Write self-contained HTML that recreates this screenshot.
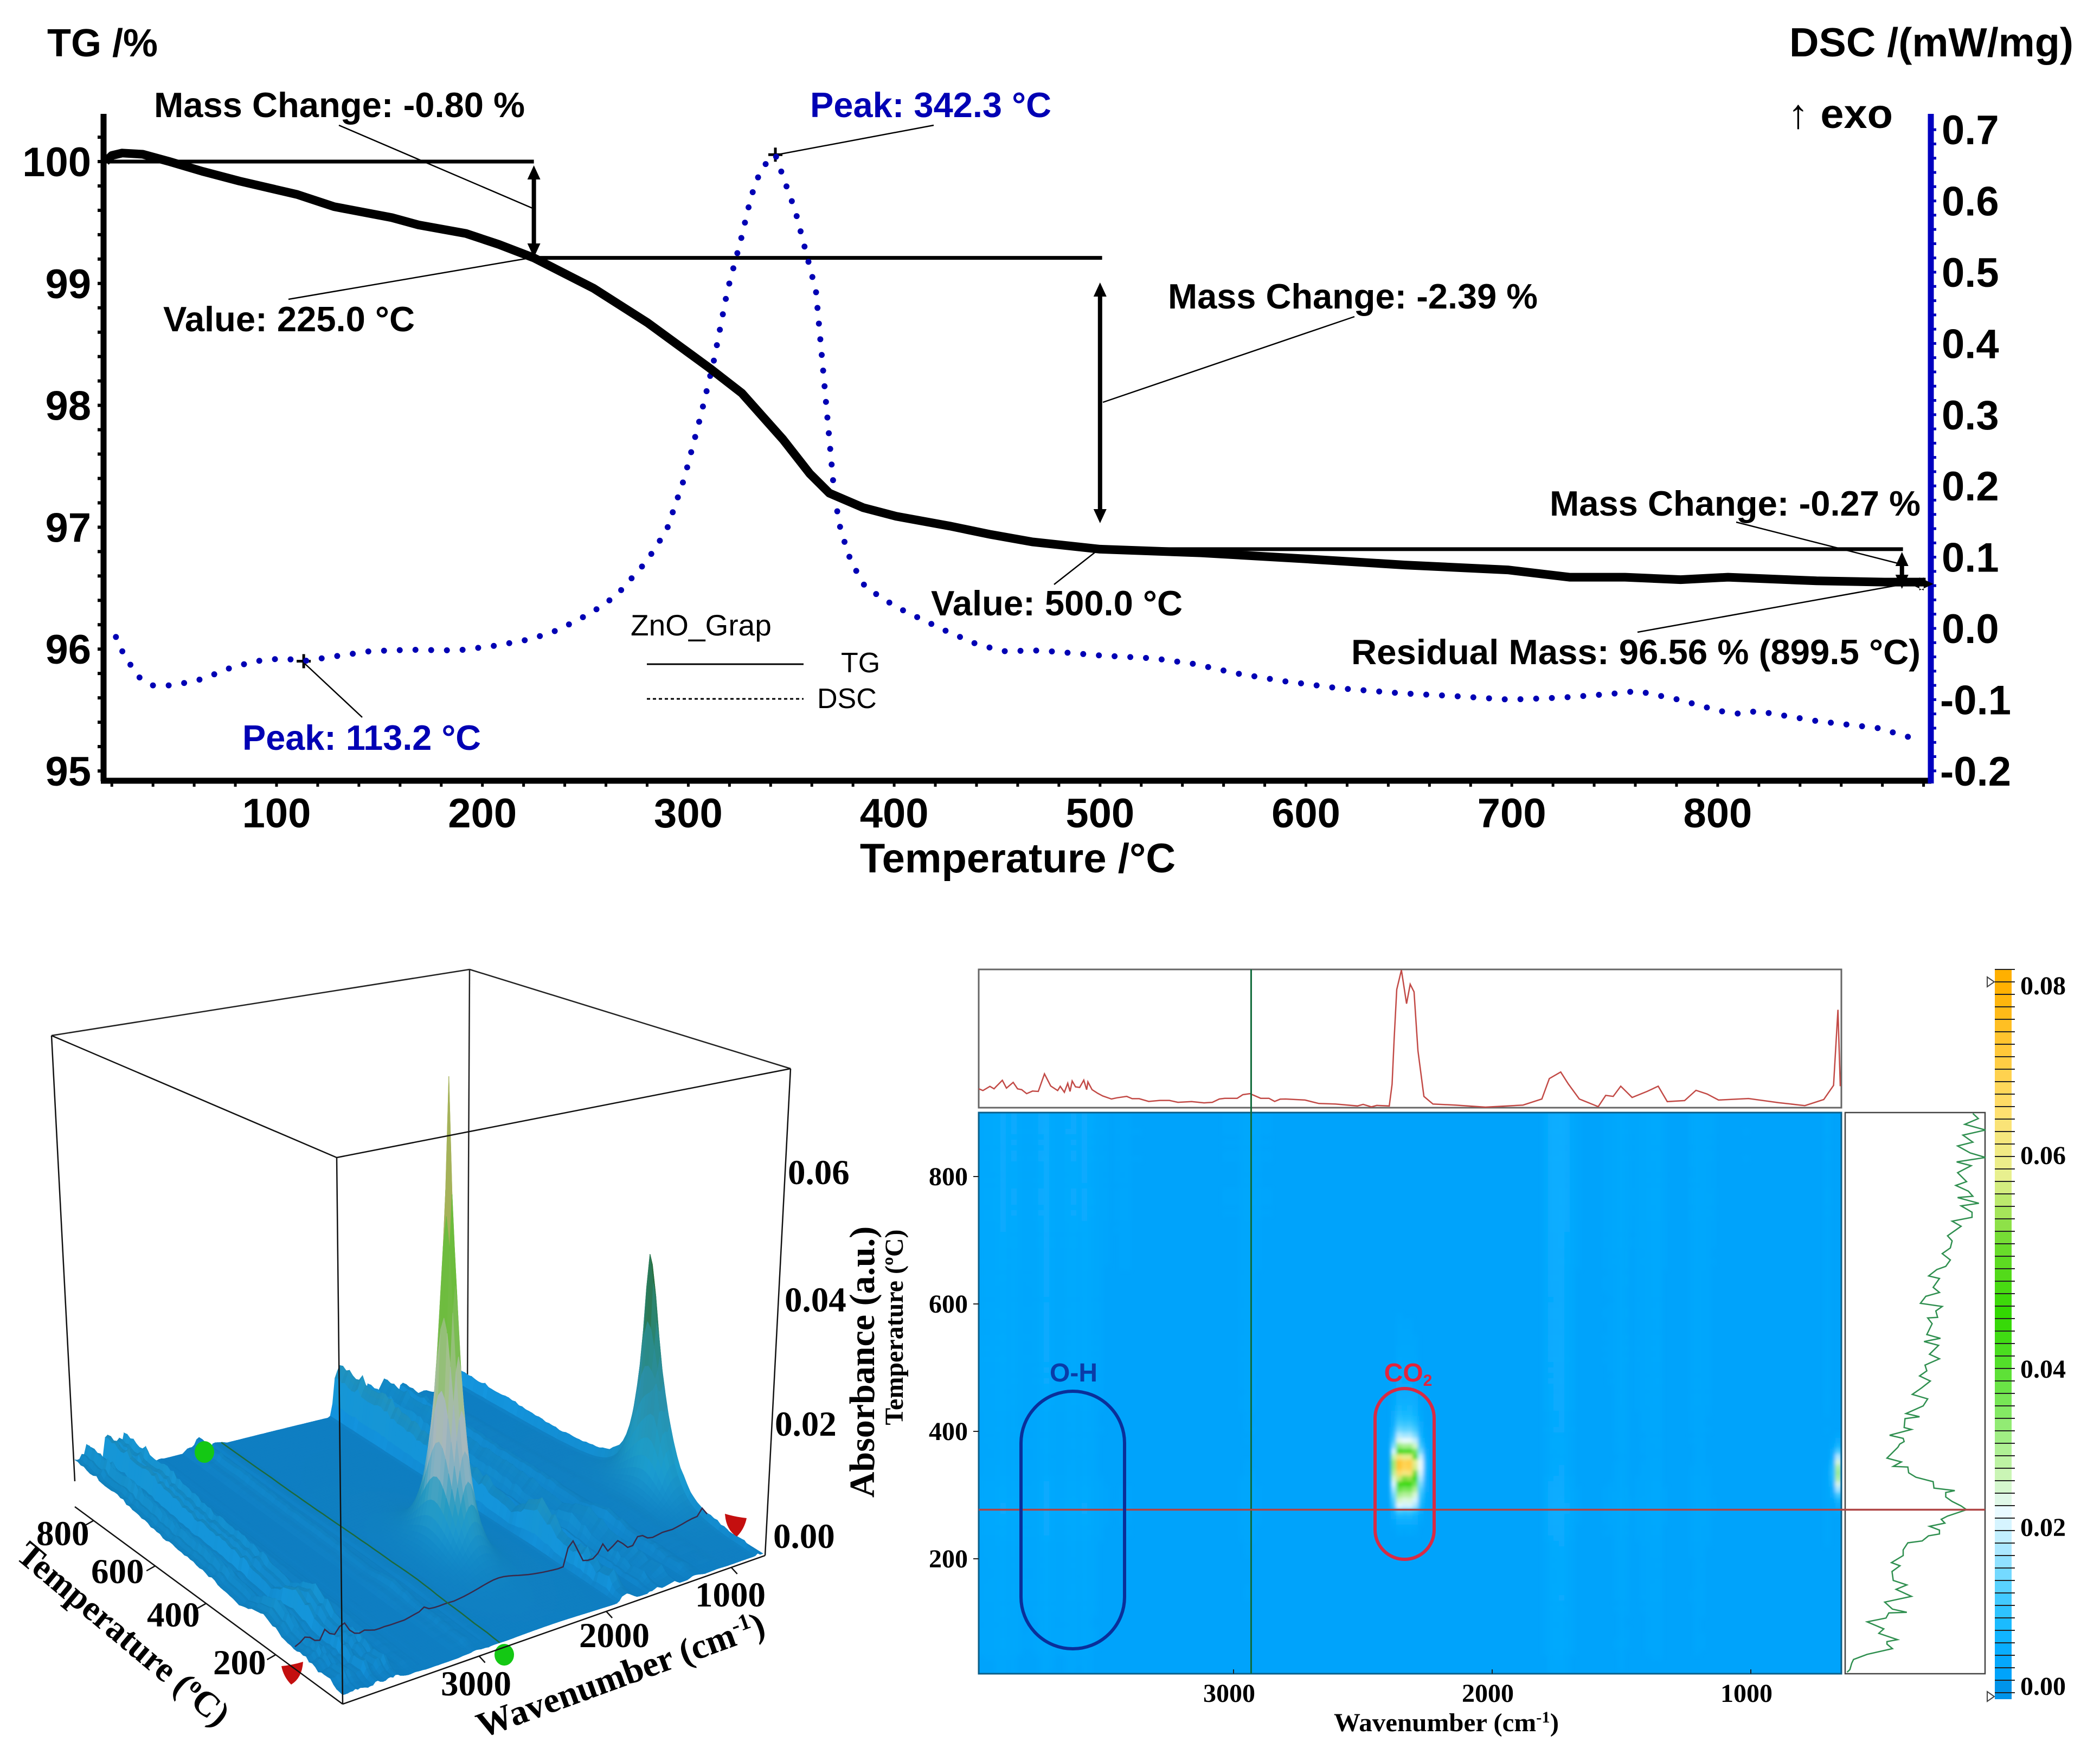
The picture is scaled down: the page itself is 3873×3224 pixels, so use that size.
<!DOCTYPE html>
<html lang="en">
<head>
<meta charset="utf-8">
<title>TG-DSC and FTIR charts</title>
<style>
html,body{margin:0;padding:0;background:#fff;}
svg{display:block;}
.sb{font-family:"Liberation Sans",sans-serif;font-weight:700;}
.sr{font-family:"Liberation Sans",sans-serif;font-weight:400;}
.tb{font-family:"Liberation Serif",serif;font-weight:700;}
</style>
</head>
<body>
<svg id="fig" xmlns="http://www.w3.org/2000/svg" width="3873" height="3224" viewBox="0 0 3873 3224">
<defs>
<clipPath id="heatClip"><rect x="1805" y="2052" width="1591" height="1035"/></clipPath>
<filter id="soft" x="-2%" y="-2%" width="104%" height="104%"><feGaussianBlur stdDeviation="3.5"/></filter>
</defs>
<rect width="3873" height="3224" fill="#fff"/>

<g id="tgChart">
<g id="tgTicks"></g>
<line x1="191" y1="210" x2="191" y2="1441" stroke="#000" stroke-width="11"/>
<line x1="186" y1="1440" x2="3562" y2="1440" stroke="#000" stroke-width="11"/>
<line x1="3561" y1="210" x2="3561" y2="1445" stroke="#0000c0" stroke-width="11"/>
<g id="tgAnno"></g>
<g id="tgSeries"></g>
<text class="sb" x="87" y="104" font-size="72">TG /%</text>
<text class="sb" x="3300" y="104" font-size="75" textLength="524" lengthAdjust="spacingAndGlyphs">DSC /(mW/mg)</text>
<text class="sb" x="3297" y="236" font-size="76" textLength="194" lengthAdjust="spacingAndGlyphs">↑ exo</text>
<text class="sb" x="1877" y="1609" font-size="76" text-anchor="middle">Temperature /°C</text>
<text class="sb" x="284" y="216" font-size="65" textLength="684" lengthAdjust="spacingAndGlyphs">Mass Change: -0.80 %</text>
<text class="sb" x="1494" y="216" font-size="65" fill="#0000b4" textLength="445" lengthAdjust="spacingAndGlyphs">Peak: 342.3 °C</text>
<text class="sb" x="301" y="611" font-size="65" textLength="464" lengthAdjust="spacingAndGlyphs">Value: 225.0 °C</text>
<text class="sb" x="2154" y="569" font-size="65" textLength="682" lengthAdjust="spacingAndGlyphs">Mass Change: -2.39 %</text>
<text class="sb" x="2858" y="951" font-size="65" textLength="684" lengthAdjust="spacingAndGlyphs">Mass Change: -0.27 %</text>
<text class="sb" x="1717" y="1135" font-size="65" textLength="464" lengthAdjust="spacingAndGlyphs">Value: 500.0 °C</text>
<text class="sb" x="2492" y="1225" font-size="65" textLength="1050" lengthAdjust="spacingAndGlyphs">Residual Mass: 96.56 % (899.5 °C)</text>
<text class="sb" x="447" y="1383" font-size="65" fill="#0000b4" textLength="440" lengthAdjust="spacingAndGlyphs">Peak: 113.2 °C</text>
<text class="sr" x="1163" y="1172" font-size="55">ZnO_Grap</text>
<line x1="1193" y1="1225" x2="1482" y2="1225" stroke="#000" stroke-width="3"/>
<text class="sr" x="1551" y="1240" font-size="52">TG</text>
<line x1="1193" y1="1289" x2="1482" y2="1289" stroke="#000" stroke-width="3" stroke-dasharray="6 5"/>
<text class="sr" x="1507" y="1306" font-size="52">DSC</text>
</g>

<g id="surf">
<g stroke="#222" stroke-width="2.5">
<line x1="95" y1="1910" x2="866" y2="1788"/>
<line x1="866" y1="1788" x2="1458" y2="1971"/>
<line x1="866" y1="1788" x2="862" y2="2560"/>
</g>
<g id="surfMesh"></g>
<g id="surfOver"></g>
<g stroke="#111" stroke-width="2.5">
<line x1="95" y1="1910" x2="621" y2="2135"/>
<line x1="621" y1="2135" x2="1458" y2="1971"/>
<line x1="95" y1="1910" x2="138" y2="2732"/>
<line x1="621" y1="2135" x2="632" y2="3143"/>
<line x1="1458" y1="1971" x2="1411" y2="2869"/>
<line x1="138" y1="2779" x2="632" y2="3143"/>
<line x1="632" y1="3143" x2="1411" y2="2869"/>
</g>
<g id="surfLabels"></g>
<text class="tb" x="214" y="3030" font-size="65" text-anchor="middle" transform="rotate(40 214 3030)">Temperature (<tspan font-size="42" dy="-22">o</tspan><tspan dy="22">C)</tspan></text>
<text class="tb" x="1152" y="3110" font-size="66" text-anchor="middle" transform="rotate(-20 1152 3110)">Wavenumber (cm<tspan font-size="42" dy="-22">-1</tspan><tspan dy="22">)</tspan></text>
<text class="tb" x="1612" y="2512" font-size="66" text-anchor="middle" transform="rotate(-90 1612 2512)">Absorbance (a.u.)</text>
</g>

<g id="heat">
<rect x="1805" y="2052" width="1591" height="1035" fill="#00a3fb"/>
<g clip-path="url(#heatClip)"><g id="heatCells" filter="url(#soft)"></g></g>
<rect x="1805" y="2052" width="1591" height="1035" fill="none" stroke="#0b5f8a" stroke-width="3"/>
<rect x="1805" y="1788" width="1591" height="255" fill="#fff" stroke="#666" stroke-width="3"/>
<rect x="3403" y="2052" width="258" height="1035" fill="#fff" stroke="#444" stroke-width="2.5"/>
<g id="heatLines"></g>
<g id="colorbar"></g>
<rect x="1883" y="2566" width="191" height="475" rx="95.5" ry="95.5" fill="none" stroke="#0a2f9a" stroke-width="6"/>
<rect x="2536" y="2561" width="109" height="315" rx="54.5" ry="54.5" fill="none" stroke="#d82b44" stroke-width="6"/>
<text class="sb" x="1980" y="2548" font-size="48" fill="#0a3ca8" text-anchor="middle">O-H</text>
<text class="sb" x="2597" y="2548" font-size="48" fill="#e2243c" text-anchor="middle">CO<tspan font-size="30" dy="8">2</tspan></text>
<text class="tb" x="2460" y="3193" font-size="48" textLength="415" lengthAdjust="spacingAndGlyphs">Wavenumber (cm<tspan font-size="30" dy="-16">-1</tspan><tspan dy="16">)</tspan></text>
<text class="tb" x="1665" y="2448" font-size="48" text-anchor="middle" transform="rotate(-90 1665 2448)">Temperature (ºC)</text>
</g>
</svg>

<script>
// ---------- TG / DSC data ----------
const tgTemps=[17,20,25,35,48,64,82,110,128,156,169,192,208,225,254,280,310,326,346,359,368.5,385,401,427,447,467,500,549,600,648,698,728,755,782,805,848,881,901];
const tgValues=[100.0,100.05,100.07,100.06,100.0,99.92,99.84,99.73,99.63,99.54,99.48,99.41,99.32,99.21,98.96,98.68,98.31,98.1,97.72,97.44,97.28,97.16,97.09,97.01,96.94,96.88,96.82,96.79,96.74,96.69,96.65,96.59,96.59,96.57,96.59,96.56,96.55,96.55];
const dscTemps=[22,26,33,39.5,50,64,78,90,103,113,129,145.5,165,188,207,223.6,237,253,265,279.7,289.5,298,306,312.6,319,325.6,330.5,335.5,342.3,347,352,357,362,365,368.5,371,374,379,386,401,424,440,453,471,500,526,546,566,589,616,646,672,699,725,748,761,781,801,811,819,848,878,897];
const dscValues=[-0.012,-0.038,-0.068,-0.08,-0.08,-0.071,-0.055,-0.046,-0.042,-0.046,-0.039,-0.032,-0.03,-0.031,-0.024,-0.015,-0.002,0.022,0.046,0.094,0.138,0.21,0.298,0.378,0.474,0.546,0.606,0.646,0.665,0.626,0.586,0.53,0.474,0.378,0.266,0.186,0.138,0.094,0.058,0.03,-0.002,-0.022,-0.032,-0.031,-0.038,-0.042,-0.05,-0.063,-0.074,-0.084,-0.091,-0.095,-0.1,-0.097,-0.092,-0.088,-0.1,-0.116,-0.12,-0.116,-0.13,-0.14,-0.156];
const tempTickLabels=[100,200,300,400,500,600,700,800];
const tgTickLabels=[100,99,98,97,96,95];
const dscTickLabels=['0.7','0.6','0.5','0.4','0.3','0.2','0.1','0.0','-0.1','-0.2'];
// ---------- FTIR data ----------
const specWavenumbers=[3985,3969,3942,3926,3919,3894,3878,3852,3835,3819,3800,3777,3755,3731,3707,3680,3670,3654,3641,3632,3624,3611,3595,3579,3568,3563,3547,3525,3506,3472,3451,3413,3392,3365,3328,3285,3248,3215,3162,3114,3082,3055,3034,2986,2964,2937,2921,2895,2863,2841,2820,2799,2724,2697,2670,2606,2521,2499,2467,2446,2398,2387,2379,2369,2351,2331,2317,2302,2287,2264,2229,2142,2026,1881,1808,1779,1735,1706,1663,1590,1561,1532,1503,1459,1401,1358,1323,1256,1212,1169,1125,1009,893,791,718,680,663,654];
const specAbsorbance=[.0109,.0099,.0123,.0109,.0120,.0158,.0113,.0146,.0109,.0104,.0081,.0096,.0094,.0195,.0125,.0099,.0123,.0089,.0141,.0094,.0154,.0120,.0117,.0159,.0104,.0149,.0104,.0083,.0068,.0050,.0057,.0065,.0052,.0052,.0036,.0042,.0042,.0031,.0035,.0028,.0031,.0050,.0054,.0054,.0075,.0081,.0071,.0054,.0054,.0036,.0049,.0050,.0044,.0034,.0024,.0021,.0010,.0019,.0005,.0013,.0010,.0135,.0396,.0682,.0794,.0600,.0712,.0668,.0329,.0065,.0021,.0015,.0003,.0015,.0050,.0168,.0206,.0138,.0050,.0006,.0071,.0065,.0124,.0059,.0094,.0124,.0035,.0041,.0100,.0079,.0044,.0053,.0029,.0012,.0047,.0129,.0565,.0124];
const profileTemps=[22,26,36,42,50,59,66,70,73,83,90,101,107,115,116,121,132,141,152,159,166,180,189,194,205,214,225,228,236,239,245,251,256,262,267,277,283,290,297,304,307,311,321,328,335,344,345,349,352,358,375,380,384,389,394,403,406,420,423,428,440,451,458,468,479,487,495,504,514,521,535,541,546,552,569,578,579,589,596,601,612,618,626,640,644,654,659,669,679,688,699,707,722,730,736,744,754,758,767,769,777,786,792,806,817,823,830,837,848,854,865,873,882,891,899];
const profileValues=[.010,.030,.043,.056,.153,.334,.295,.295,.370,.237,.272,.153,.288,.308,.437,.334,.279,.470,.360,.437,.340,.331,.388,.327,.411,.411,.444,.547,.592,.670,.670,.599,.709,.683,.728,.864,.825,.761,.715,.715,.780,.631,.625,.502,.450,.444,.340,.373,.398,.295,.373,.386,.418,.411,.314,.470,.418,.424,.528,.431,.554,.586,.476,.541,.605,.528,.580,.567,.670,.599,.664,.560,.677,.580,.618,.586,.657,.644,.690,.534,.573,.670,.625,.670,.593,.651,.715,.748,.690,.748,.761,.728,.825,.761,.903,.903,.825,.952,.800,.909,.877,.787,.864,.800,.897,.793,1.0,.890,.800,.909,.838,1.0,.851,.948,.909];
const heatWaveTicks=[3000,2000,1000];
const heatTempTicks=[800,600,400,200];
const colorbarTicks=[0.08,0.06,0.04,0.02,0.00];
const peakWavenumbers=[2340,690,760];
const peakTemps=[340,340,300];
const peakHeights=[.0791,.0425,.012];
const surfZLabels=['0.06','0.04','0.02','0.00'];
const surfTempLabels=['800','600','400','200'];
const surfWaveLabels=['3000','2000','1000'];

const NS='http://www.w3.org/2000/svg';
function mk(tag,attrs,parent,text){
  const el=document.createElementNS(NS,tag);
  for(const k in attrs) el.setAttribute(k,attrs[k]);
  if(text!==undefined) el.textContent=text;
  parent.appendChild(el);
  return el;
}
const $=id=>document.getElementById(id);

// ---------- TG chart ----------
const xT=t=>510+(t-100)*3.797;
const yTG=v=>298+(100-v)*224.8;
const yDSC=v=>1159-v*1314;

const ticks=$('tgTicks');
for(let t=20;t<=900;t+=20){
  const tk=mk('line',{x1:xT(t),y1:1440,x2:xT(t),y2:1451,stroke:'#000','stroke-width':5},ticks);
  
  
}
for(let v=95;v<=100.21;v+=0.2){
  const tk=mk('line',{x1:180,y1:yTG(v),x2:190,y2:yTG(v),stroke:'#000','stroke-width':6},ticks);
  
  
}
for(let v=-0.2;v<=0.701;v+=0.02){
  const tk=mk('line',{x1:3561,y1:yDSC(v),x2:3571,y2:yDSC(v),stroke:'#0000c0','stroke-width':5},ticks);
  
  
}
tempTickLabels.forEach(t=>{
  const l=mk('text',{class:'sb',x:xT(t),y:1526,'font-size':76,'text-anchor':'middle'},ticks,String(t));
  
  
});
tgTickLabels.forEach(v=>{
  const l=mk('text',{class:'sb',x:168,y:yTG(v)+27,'font-size':76,'text-anchor':'end'},ticks,String(v));
  
  
});
dscTickLabels.forEach(s=>{
  const l=mk('text',{class:'sb',x:s[0]==='-'?3578:3581,y:yDSC(parseFloat(s))+27,'font-size':76},ticks,s);
  
  
});

const series=$('tgSeries');
const dscPath=mk('path',{d:'M'+dscTemps.map((t,i)=>xT(t).toFixed(1)+' '+yDSC(dscValues[i]).toFixed(1)).join('L'),fill:'none',stroke:'#0000b4','stroke-width':11,'stroke-linecap':'round','stroke-dasharray':'0 29'},series);


const tgPath=mk('path',{d:'M'+tgTemps.map((t,i)=>xT(t).toFixed(1)+' '+yTG(tgValues[i]).toFixed(1)).join('L'),fill:'none',stroke:'#000','stroke-width':16,'stroke-linejoin':'round'},series);



const anno=$('tgAnno');
function hline(x1,x2,y,w){return mk('line',{x1:x1,y1:y,x2:x2,y2:y,stroke:'#000','stroke-width':w},anno);}
const h1=hline(xT(17),xT(225),yTG(100),7);


const h2=hline(xT(225),xT(501),yTG(99.21),7);


const h3=hline(xT(500),xT(890),yTG(96.82),7);


function arrow(x,y1,y2){
  const g=mk('g',{},anno);
  mk('line',{x1:x,y1:y1+14,x2:x,y2:y2-14,stroke:'#000','stroke-width':8},g);
  mk('path',{d:`M${x} ${y1}l-12 26h24zM${x} ${y2}l-12 -26h24z`,fill:'#000'},g);
  return g;
}
const a1=arrow(xT(225),305,475);


const a2=arrow(xT(500),521,965);


const a3=arrow(xT(889.5),1018,1086);


const a4=arrow(xT(899),1055,1099);
a4.setAttribute('transform',`rotate(90 ${xT(899)} 1077)`);


const leaderSegs=[[625,231,982,384],[532,552,982,475],[1722,231,1440,284],[668,1323,560,1222],[2498,584,2034,742],[1944,1078,2028,1012],[3202,963,3508,1041],[3020,1166,3508,1078]];
leaderSegs.forEach(s=>{
  const l=mk('line',{x1:s[0],y1:s[1],x2:s[2],y2:s[3],stroke:'#000','stroke-width':2.5},anno);
  
  
});
[[342.3,.665],[113.2,-.046]].forEach(p=>{
  const x=xT(p[0]),y=yDSC(p[1]);
  const c=mk('path',{d:`M${x-13} ${y}h26M${x} ${y-13}v26`,stroke:'#000','stroke-width':5,fill:'none'},anno);
  
  
});

// ---------- helpers ----------
function interp(xs,ys,x){
  const asc=xs[0]<xs[xs.length-1];
  const n=xs.length;
  if(asc?x<=xs[0]:x>=xs[0]) return ys[0];
  if(asc?x>=xs[n-1]:x<=xs[n-1]) return ys[n-1];
  for(let i=1;i<n;i++){
    if(asc?x<=xs[i]:x>=xs[i]){
      const f=(x-xs[i-1])/(xs[i]-xs[i-1]);
      return ys[i-1]+f*(ys[i]-ys[i-1]);
    }
  }
  return ys[n-1];
}
const spec=w=>interp(specWavenumbers,specAbsorbance,w);
const prof=t=>interp(profileTemps,profileValues,t);
const bg=w=>{
  if(w>2255&&w<2400) return .0015;
  if(w<700) return .004;
  return spec(w);
};
const hexRGB=h=>[parseInt(h.substr(1,2),16),parseInt(h.substr(3,2),16),parseInt(h.substr(5,2),16)];
function ramp(stops,v,shade){
  let c=hexRGB(stops[stops.length-1][1]);
  if(v<=stops[0][0]) c=hexRGB(stops[0][1]);
  else for(let i=1;i<stops.length;i++){
    if(v<=stops[i][0]){
      const f=(v-stops[i-1][0])/(stops[i][0]-stops[i-1][0]);
      const a=hexRGB(stops[i-1][1]),b=hexRGB(stops[i][1]);
      c=a.map((q,j)=>q+f*(b[j]-q));
      break;
    }
  }
  const s=shade===undefined?1:shade;
  return 'rgb('+c.map(q=>Math.max(0,Math.min(255,Math.round(q*s)))).join(',')+')';
}

// ---------- 3D surface ----------
const FC=[632,3132],GC=[1409,2869],EC=[138,2732],HC=[862,2554];
const zScale=11200;
function project(w,t,a){
  const u=(4000-w)/3350,v=(t-20)/880;
  const x=FC[0]+u*(GC[0]-FC[0])+v*(EC[0]-FC[0])+u*v*(HC[0]+FC[0]-EC[0]-GC[0]);
  const y=FC[1]+u*(GC[1]-FC[1])+v*(EC[1]-FC[1])+u*v*(HC[1]+FC[1]-EC[1]-GC[1]);
  return [x,y-a*zScale];
}
function height(w,t){
  let h=Math.max(0,bg(w)-.004)*0.55*(0.12+0.88*prof(t));
  for(let i=0;i<peakWavenumbers.length;i++){
    const dw=(w-peakWavenumbers[i])/42,dt=(t-peakTemps[i])/26;
    const r=Math.sqrt(dw*dw+dt*dt);
    h+=peakHeights[i]*(0.72*Math.exp(-r)+0.28/(1+r*r/3.5));
  }
  return h;
}
const rampMain=[[0,'#0f7ec2'],[.004,'#1283bd'],[.01,'#2490b4'],[.016,'#82aebe'],[.022,'#a8b8bc'],[.03,'#a2c08c'],[.04,'#72bc44'],[.05,'#6cbc3c'],[.06,'#a0b458'],[.07,'#bea85e'],[.08,'#b08c3c']];
const rampSide=[[0,'#0f7ec2'],[.008,'#1a8fb8'],[.018,'#2a8fa8'],[.028,'#2a8878'],[.036,'#2a7040'],[.043,'#1f5a28']];
const meshW=[],meshT=[];
for(let w=660;w<=4000;w+=20) meshW.push(w);
for(let t=900;t>=20;t-=10) meshT.push(t);
const mesh=$('surfMesh');
for(let j=0;j<meshT.length-1;j++){
  for(let i=0;i<meshW.length-1;i++){
    const w0=meshW[i],w1=meshW[i+1],t0=meshT[j],t1=meshT[j+1];
    const h00=height(w0,t0),h10=height(w1,t0),h01=height(w0,t1),h11=height(w1,t1);
    const a=project(w0,t0,h00),b=project(w1,t0,h10),c=project(w1,t1,h11),d=project(w0,t1,h01);
    const hm=(h00+h10+h01+h11)/4;
    const raw=Math.max(-.4,Math.min(.18,((h00+h10)-(h01+h11))*30+((h00+h01)-(h10+h11))*40));
    const s=1+raw*Math.max(0,1-hm/.018);
    const col=ramp(w0<1000?rampSide:rampMain,hm,s);
    const q=mk('path',{d:`M${a[0].toFixed(1)} ${a[1].toFixed(1)}L${b[0].toFixed(1)} ${b[1].toFixed(1)}L${c[0].toFixed(1)} ${c[1].toFixed(1)}L${d[0].toFixed(1)} ${d[1].toFixed(1)}Z`,fill:col,stroke:col,'stroke-width':1},mesh);
    
    
  }
}
const over=$('surfOver');
const tempLineT=185,waveLineW=2750;
const slice=[];for(let k=0;k<meshW.length;k+=2){slice.push(project(meshW[k],tempLineT,height(meshW[k],tempLineT)).map(v=>v.toFixed(1)).join(' '));}
const sl=mk('path',{d:'M'+slice.join('L'),fill:'none',stroke:'#3a2a4a','stroke-width':2.5},over);


const wl=[];for(let t=20;t<=900;t+=20){wl.push(project(waveLineW,t,height(waveLineW,t)).map(v=>v.toFixed(1)).join(' '));}
const wlp=mk('path',{d:'M'+wl.join('L'),fill:'none',stroke:'#1d6a3a','stroke-width':2.5},over);


[[377,2678],[930,3052]].forEach(p=>{
  const m=mk('ellipse',{cx:p[0],cy:p[1],rx:18,ry:20,fill:'#14c814'},over);
  
  
});
[[539,3085,1],[1357,2812,-1]].forEach(p=>{
  const m=mk('path',{d:`M${p[0]-20*p[2]} ${p[1]-12}Q${p[0]} ${p[1]-14} ${p[0]+20*p[2]} ${p[1]-20}Q${p[0]+18*p[2]} ${p[1]+10} ${p[0]-2*p[2]} ${p[1]+22}Q${p[0]-16*p[2]} ${p[1]+8} ${p[0]-20*p[2]} ${p[1]-12}Z`,fill:'#c40f0f'},over);
  
  
});
const sl3=$('surfLabels');
const zPos=[[1453,2184],[1447,2419],[1429,2648],[1426,2855]];
surfZLabels.forEach((s,i)=>{
  const l=mk('text',{class:'tb',x:zPos[i][0],y:zPos[i][1],'font-size':65},sl3,s);
  
  
});
const tPos=[[67,2850],[168,2920],[271,3000],[393,3088]];
const tTickFrac=[.07,.30,.49,.75];
surfTempLabels.forEach((s,i)=>{
  const l=mk('text',{class:'tb',x:tPos[i][0],y:tPos[i][1],'font-size':65},sl3,s);
  
  
  const ex=138+tTickFrac[i]*494,ey=2779+tTickFrac[i]*364;
  const tk=mk('line',{x1:ex,y1:ey,x2:ex-16,y2:ey+9,stroke:'#111','stroke-width':2.5},sl3);
  
  
});
const wPos=[[813,3127],[1068,3038],[1282,2963]];
const wTickFrac=[.323,.624,.92];
surfWaveLabels.forEach((s,i)=>{
  const l=mk('text',{class:'tb',x:wPos[i][0],y:wPos[i][1],'font-size':65},sl3,s);
  
  
  const ex=632+wTickFrac[i]*779,ey=3143-wTickFrac[i]*274;
  const tk=mk('line',{x1:ex,y1:ey,x2:ex+11,y2:ey+12,stroke:'#111','stroke-width':2.5},sl3);
  
  
});

// ---------- heatmap ----------
const xW=w=>2275+(3000-w)*0.477;
const yHT=t=>2875+(200-t)*1.175;
const heatStops=[[0,'#0094ea'],[.0015,'#00a3fb'],[.005,'#0aaeff'],[.008,'#1cbcff'],[.012,'#50cfff'],[.018,'#b8ecff'],[.022,'#eafaff'],[.027,'#c8f5b0'],[.035,'#80e860'],[.045,'#30d800'],[.052,'#70dc30'],[.058,'#e8f090'],[.065,'#ffe070'],[.08,'#ffb000']];
function co2Envelope(t){
  const d=t-349;
  let g=d>=0?1/(1+(d/24)*(d/24)):1/(1+(d/40)*(d/40));
  if(t<277) g*=0.6*Math.exp(-(277-t)/25);
  return g;
}
function heatValue(w,t){
  let v=.0012+bg(w)*0.2*(0.4+0.6*prof(t));
  if(w>2255&&w<2400) v+=spec(w)*co2Envelope(t);
  if(w<700){
    const tt=(t-335)/32;
    v+=spec(w)*0.55*Math.exp(-tt*tt);
  }
  return v;
}
const heatG=$('heatCells');
const cw=10,ch=10;
for(let y=2052;y<3087;y+=ch){
  for(let x=1805;x<3396;x+=cw){
    const w=3000-(x+cw/2-2275)/0.477,t=200+(2875-(y+ch/2))/1.175;
    const v=heatValue(w,t);
    if(v<.0022) continue;
    const r=mk('rect',{x:x,y:y,width:cw+.5,height:ch+.5,fill:ramp(heatStops,v)},heatG);
    
    
  }
}
const hl=$('heatLines');
const specLine=mk('path',{d:'M'+specWavenumbers.map((w,i)=>xW(w).toFixed(1)+' '+(2043-specAbsorbance[i]*3196).toFixed(1)).join('L'),fill:'none',stroke:'#c24a46','stroke-width':2.5},hl);


const profLine=mk('path',{d:'M'+profileTemps.map((t,i)=>(3404+profileValues[i]*258).toFixed(1)+' '+yHT(t).toFixed(1)).join('L'),fill:'none',stroke:'#2f8f4f','stroke-width':2.5},hl);


const crossW=2932,crossT=277;
const vl=mk('line',{x1:xW(crossW),y1:1788,x2:xW(crossW),y2:3087,stroke:'#0f6a3a','stroke-width':3},hl);


const rl=mk('line',{x1:1805,y1:yHT(crossT),x2:3661,y2:yHT(crossT),stroke:'#b04545','stroke-width':3.5},hl);


heatWaveTicks.forEach(w=>{
  const l=mk('text',{class:'tb',x:xW(w)-8,y:3139,'font-size':48,'text-anchor':'middle'},hl,String(w));
  
  
  const tk=mk('line',{x1:xW(w),y1:3087,x2:xW(w),y2:3079,stroke:'#222','stroke-width':2},hl);
  
  
});
heatTempTicks.forEach(t=>{
  const l=mk('text',{class:'tb',x:1785,y:yHT(t)+16,'font-size':48,'text-anchor':'end'},hl,String(t));
  
  
  const tk=mk('line',{x1:1795,y1:yHT(t),x2:1805,y2:yHT(t),stroke:'#222','stroke-width':2},hl);
  
  
});

// ---------- colorbar (axis is piecewise linear between its labelled ticks) ----------
const cbKnotsV=[0.00,0.02,0.04,0.06,0.08];
const cbKnotsY=[3110,2817,2525,2131,1818];
const cbY=v=>interp(cbKnotsV,cbKnotsY,v);
const cbV=y=>y>3110?-(y-3110)/16150:(y<1818?.08+(1818-y)/16150:interp(cbKnotsY,cbKnotsV,y));
const cb=$('colorbar');
for(let y=1788;y<3134;y+=23){
  const h=Math.min(23.5,3134-y);
  const r=mk('rect',{x:3679,y:y,width:31,height:h,fill:ramp(heatStops,cbV(y+11.5))},cb);
  
  
  const l=mk('line',{x1:3679,y1:y,x2:3716,y2:y,stroke:'#222','stroke-width':2},cb);
  
  
}
colorbarTicks.forEach(v=>{
  const l=mk('text',{class:'tb',x:3726,y:cbY(v)+16,'font-size':48},cb,v.toFixed(2));
  
  
});
[1811,3129].forEach(y=>{
  const t=mk('path',{d:`M3665 ${y-9}L3678 ${y}L3665 ${y+9}Z`,fill:'#fff',stroke:'#444','stroke-width':2},cb);
  
  
});
</script>
</body>
</html>
